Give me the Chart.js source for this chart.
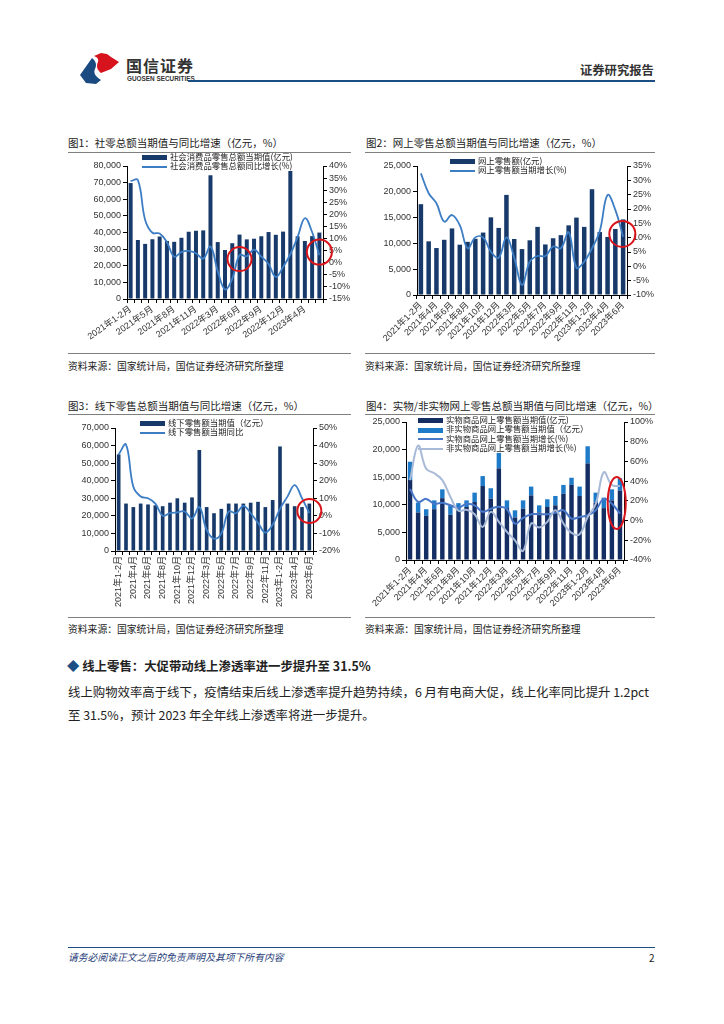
<!DOCTYPE html>
<html>
<head>
<meta charset="utf-8">
<script src="https://cdn.jsdelivr.net/npm/chart.js@4.4.1/dist/chart.umd.min.js"></script>
<style>
  html, body { margin: 0; padding: 0; background: #fff; }
  #page { position: relative; width: 724px; height: 1024px; overflow: hidden;
    font-family: "Noto Sans CJK SC", "Liberation Sans", sans-serif; color: #222; }
  .abs { position: absolute; white-space: nowrap; }
  .title { font-size: 10.5px; line-height: 12px; color: #222; }
  .rule { position: absolute; height: 1px; background: #7f7f7f; }
  .src { font-size: 9.8px; line-height: 12px; color: #222; }
  canvas { position: absolute; }
  .lg { position: absolute; font-size: 8.4px; line-height: 9.3px; color: #222; white-space: nowrap; }
  .lg .sw { display: inline-block; width: 25px; margin-right: 3px; vertical-align: middle; }
  .lg .bar { height: 5px; }
  .lg .ln { height: 2px; }
</style>
</head>
<body>
<div id="page">
  <!-- header -->
  <svg class="abs" style="left:76px;top:50px" width="48" height="36" viewBox="76 50 48 36">
    <path d="M80,75 L92,58 C96,61 97,65 95,69 C93,73 96,77 101,80 L96,84 L86,83 Z" fill="#1B4A80"/>
    <path d="M94,56 L101,53 L107,54 L111,57 L119,62 L111,69 L101,73 C97,70 96,66 98,62 C99,59 97,57 94,56 Z" fill="#D7141D"/>
  </svg>
  <div class="abs" style="left:126px;top:53px;font-size:16px;font-weight:700;color:#333;letter-spacing:1px">国信证券</div>
  <div class="abs" style="left:127px;top:75px;font-size:6.4px;font-weight:700;color:#333;font-family:'Liberation Sans',sans-serif">GUOSEN SECURITIES</div>
  <div class="abs" style="left:580px;top:61px;font-size:12.3px;font-weight:700;color:#333">证券研究报告</div>
  <div class="abs" style="left:188px;top:80px;width:467px;height:2px;background:#1B4F84"></div>

  <!-- chart titles -->
  <div class="abs title" style="left:68px;top:137px">图1：社零总额当期值与同比增速（亿元，%）</div>
  <div class="rule" style="left:68px;top:152px;width:283px"></div>
  <div class="abs title" style="left:366px;top:137px">图2：网上零售总额当期值与同比增速（亿元，%）</div>
  <div class="rule" style="left:365px;top:152px;width:290px"></div>
  <div class="abs title" style="left:68px;top:400px">图3：线下零售总额当期值与同比增速（亿元，%）</div>
  <div class="rule" style="left:68px;top:414px;width:283px"></div>
  <div class="abs title" style="left:366px;top:400px">图4：实物/非实物网上零售总额当期值与同比增速（亿元，%）</div>
  <div class="rule" style="left:365px;top:414px;width:290px"></div>

  <canvas id="c1" width="300" height="200" style="left:60px;top:150px"></canvas>
  <canvas id="c2" width="300" height="200" style="left:360px;top:150px"></canvas>
  <canvas id="c3" width="300" height="205" style="left:60px;top:412px"></canvas>
  <canvas id="c4" width="300" height="205" style="left:360px;top:412px"></canvas>

  <!-- legends -->
  <div class="lg" style="left:142px;top:152px">
    <div><span class="sw bar" style="background:#173A6B"></span>社会消费品零售总额当期值(亿元)</div>
    <div><span class="sw ln" style="background:#3C7DC4"></span>社会消费品零售总额同比增长(%)</div>
  </div>
  <div class="lg" style="left:450px;top:156px">
    <div><span class="sw bar" style="background:#173A6B"></span>网上零售额(亿元)</div>
    <div><span class="sw ln" style="background:#3C7DC4"></span>网上零售额当期增长(%)</div>
  </div>
  <div class="lg" style="left:140px;top:418px">
    <div><span class="sw bar" style="background:#173A6B"></span>线下零售额当期值（亿元）</div>
    <div><span class="sw ln" style="background:#3C7DC4"></span>线下零售额当期同比</div>
  </div>
  <div class="lg" style="left:418px;top:415px">
    <div><span class="sw bar" style="background:#142D63"></span>实物商品网上零售额当期值(亿元)</div>
    <div><span class="sw bar" style="background:#1F7BC7"></span>非实物商品网上零售额当期值（亿元）</div>
    <div><span class="sw ln" style="background:#4A78C8"></span>实物商品网上零售额当期增长(%)</div>
    <div><span class="sw ln" style="background:#A9BAD8"></span>非实物商品网上零售额当期增长(%)</div>
  </div>

  <div class="rule" style="left:68px;top:353px;width:283px"></div>
  <div class="abs src" style="left:68px;top:360px">资料来源：国家统计局，国信证券经济研究所整理</div>
  <div class="rule" style="left:365px;top:353px;width:290px"></div>
  <div class="abs src" style="left:365px;top:360px">资料来源：国家统计局，国信证券经济研究所整理</div>
  <div class="rule" style="left:68px;top:617px;width:283px"></div>
  <div class="abs src" style="left:68px;top:623px">资料来源：国家统计局，国信证券经济研究所整理</div>
  <div class="rule" style="left:365px;top:617px;width:290px"></div>
  <div class="abs src" style="left:365px;top:623px">资料来源：国家统计局，国信证券经济研究所整理</div>

  <!-- text -->
  <div class="abs" style="left:67px;top:657px;font-size:12.4px;font-weight:700;color:#222"><span style="color:#1B4F84">◆</span> 线上零售：大促带动线上渗透率进一步提升至 31.5%</div>
  <div class="abs" style="left:68px;top:683px;font-size:12.4px;color:#222">线上购物效率高于线下，疫情结束后线上渗透率提升趋势持续，6 月有电商大促，线上化率同比提升 1.2pct</div>
  <div class="abs" style="left:68px;top:706px;font-size:12.4px;color:#222">至 31.5%，预计 2023 年全年线上渗透率将进一步提升。</div>

  <!-- footer -->
  <div class="abs" style="left:68px;top:947px;width:587px;height:1px;background:#1B4F84"></div>
  <div class="abs" style="left:68px;top:950px;font-size:9.8px;font-style:italic;color:#1F3C78">请务必阅读正文之后的免责声明及其项下所有内容</div>
  <div class="abs" style="left:649px;top:950px;font-size:10px;color:#222">2</div>
</div>

<script>
var months = ['2021年1-2月','2021年3月','2021年4月','2021年5月','2021年6月','2021年7月','2021年8月',
  '2021年9月','2021年10月','2021年11月','2021年12月','2022年1-2月','2022年3月','2022年4月',
  '2022年5月','2022年6月','2022年7月','2022年8月','2022年9月','2022年10月','2022年11月',
  '2022年12月','2023年1-2月','2023年3月','2023年4月','2023年5月','2023年6月'];

// tick labels shown on each x axis
var ticksEvery3 = ['2021年1-2月','2021年5月','2021年8月','2021年11月','2022年3月','2022年6月',
  '2022年9月','2022年12月','2023年4月'];
var ticksEvery2 = ['2021年1-2月','2021年4月','2021年6月','2021年8月','2021年10月','2021年12月',
  '2022年3月','2022年5月','2022年7月','2022年9月','2022年11月','2023年1-2月','2023年4月','2023年6月'];

// fig1: total retail sales (100m yuan) and yoy (%)
var retailTotal = [69737,35484,33153,35945,37586,34925,34395,36833,40454,41043,41269,74426,34233,29483,
  33547,38742,35870,36258,37745,40271,38615,40542,77067,37715,34910,37803,39951];
var retailYoy = [33.8,34.2,17.7,12.4,12.1,8.5,2.5,4.4,4.9,3.9,1.7,6.7,-3.5,-11.1,-6.7,3.1,2.7,5.4,2.5,
  -0.5,-5.9,-1.8,3.5,10.6,18.4,12.7,3.1];

// fig2: online retail
var onlineTotal = [17600,10400,9100,10700,12900,9750,10300,10900,12100,15050,13000,19400,10850,8900,
  10600,13200,9800,11000,11600,13500,15000,13200,20500,12200,11250,12800,14650];
var onlineYoy = [32.4,25.5,22,15.6,17.9,14.4,6.3,10.1,10.1,5.1,3,10.1,3,-6.5,1.6,3.6,3.6,6.9,6.3,11.9,
  -0.5,1.6,6.3,12.3,24.9,19.7,10.3];

// fig3: offline retail
var offlineTotal = [55000,27000,25000,27000,26500,26000,25500,27500,30000,27500,30500,57500,25000,21500,
  24000,27000,27000,27000,27500,28000,25000,29000,59500,27000,25500,25000,27000];
var offlineYoy = [35,40.6,16.5,11,10,7,0,1.5,2,2.5,-1.5,5,-8,-13,-10,2.5,1.5,5.7,1.5,-4,-9.5,-5,4,10.8,
  17.5,10,1.5];

// fig4: physical / non-physical online retail
var physical = [14500,8600,8000,9200,11200,8200,9000,9600,10500,13400,11100,16600,9400,7700,9300,11700,
  8600,9600,9900,12000,13600,11600,17500,10400,9400,10800,12600];
var nonPhysical = [3300,1800,1200,1600,1600,1600,1300,1200,1700,1800,1900,2800,1400,1300,1500,1600,
  1300,1400,1700,1600,1300,1700,3100,1800,1900,2000,2200];
var physicalYoy = [32,19,22,17,18,15.5,13,17,15.5,9,12,14,11.5,-3,2.7,6.4,6.4,6.4,7.8,10.5,2,3.7,5.4,
  10.5,22,17,7];
var nonPhysicalYoy = [41,76,52.5,48,41,24,10,11,6.4,-6.4,8.8,-1.3,-11.5,-20,-30.7,-3,-7,-1.3,10.5,-3,
  -12.5,-13.8,3.7,17,49,36,35];

Chart.defaults.font.family = "'Liberation Sans', 'Noto Sans CJK SC', sans-serif";
Chart.defaults.font.size = 9;
Chart.defaults.color = '#333';

var BAR = '#173A6B', LINE = '#3C7DC4';

function thousands(v) {
  return String(v).replace(/\B(?=(\d{3})+(?!\d))/g, ',');
}

// red rings drawn at data coordinates
var ringPlugin = {
  id: 'rings',
  afterDatasetsDraw: function(chart, args, opts) {
    var ctx = chart.ctx;
    (opts.marks || []).forEach(function(m) {
      var x = chart.scales.x.getPixelForValue(m.index);
      var y = chart.scales[m.axis].getPixelForValue(m.value);
      ctx.save();
      ctx.strokeStyle = '#D9141B';
      ctx.lineWidth = 2;
      ctx.beginPath();
      ctx.ellipse(x, y, m.rx, m.ry, 0, 0, Math.PI * 2);
      ctx.stroke();
      ctx.restore();
    });
  }
};

function axisX(shown, rot, h, stacked) {
  return {
    type: 'category',
    offset: true,
    stacked: !!stacked,
    grid: { offset: true, drawOnChartArea: false, tickLength: 4, color: '#000' },
    border: { color: '#000' },
    ticks: {
      autoSkip: false, minRotation: rot, maxRotation: rot, padding: 1,
      callback: function(v, i) { return shown.indexOf(months[i]) >= 0 ? months[i] : ''; }
    },
    afterFit: function(s) { s.height = h; }
  };
}

function axisY(pos, min, max, step, w, fmt, stacked) {
  return {
    position: pos, min: min, max: max, stacked: !!stacked,
    grid: { drawOnChartArea: false, tickLength: 4, color: '#000' },
    border: { color: '#000' },
    ticks: { stepSize: step, padding: 2, autoSkip: false, callback: fmt },
    afterFit: function(s) { s.width = w; }
  };
}

function pct(v) { return v + '%'; }

function lineSet(data, color, width) {
  return {
    type: 'line', data: data, yAxisID: 'y1', borderColor: color, borderWidth: width || 1.8,
    pointRadius: 0, tension: 0.4, fill: false, order: 0
  };
}

function makeChart(id, datasets, scales, top, marks) {
  return new Chart(document.getElementById(id), {
    type: 'bar',
    data: { labels: months, datasets: datasets },
    options: {
      responsive: false,
      animation: false,
      layout: { padding: { top: top, left: 0, right: 0, bottom: 0 } },
      plugins: { legend: { display: false }, tooltip: { enabled: false }, rings: { marks: marks } },
      scales: scales
    },
    plugins: [ringPlugin]
  });
}

makeChart('c1', [
  { data: retailTotal, backgroundColor: BAR, yAxisID: 'y', barPercentage: 0.55, categoryPercentage: 1, order: 1 },
  lineSet(retailYoy, LINE)
], {
  x: axisX(ticksEvery3, 35, 51),
  y: axisY('left', 0, 80000, 10000, 67, thousands),
  y1: axisY('right', -15, 40, 5, 37, pct)
}, 16, [
  { index: 15, axis: 'y1', value: 1.5, rx: 12, ry: 12 },
  { index: 26, axis: 'y1', value: 4.4, rx: 12.5, ry: 12.5 }
]);

makeChart('c2', [
  { data: onlineTotal, backgroundColor: BAR, yAxisID: 'y', barPercentage: 0.58, categoryPercentage: 1, order: 1 },
  lineSet(onlineYoy, LINE)
], {
  x: axisX(ticksEvery2, 45, 55),
  y: axisY('left', 0, 25000, 5000, 57, thousands),
  y1: axisY('right', -10, 35, 5, 33, pct)
}, 16, [
  { index: 25.9, axis: 'y1', value: 11.3, rx: 13, ry: 13 }
]);

makeChart('c3', [
  { data: offlineTotal, backgroundColor: BAR, yAxisID: 'y', barPercentage: 0.5, categoryPercentage: 1, order: 1 },
  lineSet(offlineYoy, LINE)
], {
  x: axisX(ticksEvery2, 90, 66),
  y: axisY('left', 0, 70000, 10000, 55, thousands),
  y1: axisY('right', -20, 50, 10, 47, pct)
}, 16, [
  { index: 26, axis: 'y1', value: 2.8, rx: 12, ry: 12 }
]);

makeChart('c4', [
  { data: physical, backgroundColor: '#142D63', yAxisID: 'y', stack: 's', barPercentage: 0.55, categoryPercentage: 1, order: 2 },
  { data: nonPhysical, backgroundColor: '#1F7BC7', yAxisID: 'y', stack: 's', barPercentage: 0.55, categoryPercentage: 1, order: 2 },
  lineSet(nonPhysicalYoy, '#A9BAD8', 2),
  lineSet(physicalYoy, '#4A78C8', 2)
], {
  x: axisX(ticksEvery2, 45, 57, true),
  y: axisY('left', 0, 25000, 5000, 46, thousands, true),
  y1: axisY('right', -40, 100, 20, 36, pct)
}, 10, [
  { index: 25.6, axis: 'y1', value: 17.8, rx: 9, ry: 26 }
]);
</script>
</body>
</html>
